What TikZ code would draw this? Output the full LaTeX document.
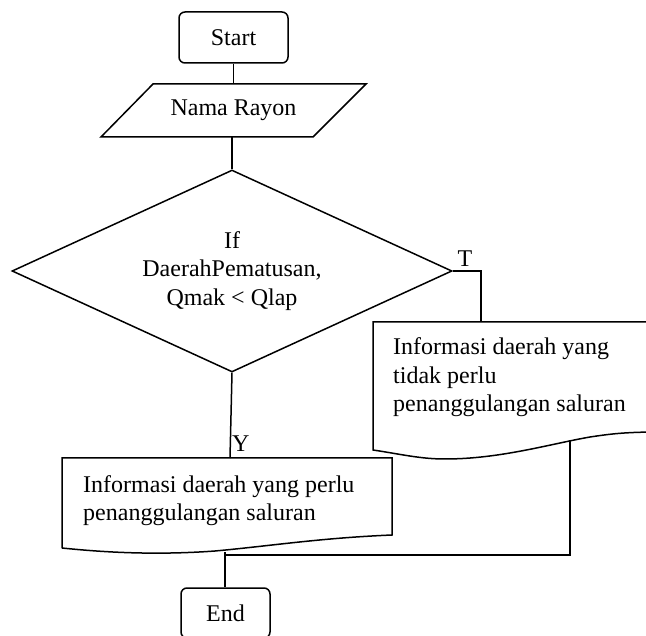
\documentclass[tikz,border=0pt]{standalone}
\usepackage{fontspec}
\setmainfont{Liberation Serif}
\usetikzlibrary{shapes.geometric}

\tikzset{
	garis/.style={line width=1.5pt},
	terminal/.style={draw, garis, rounded corners=6pt, inner sep=0pt},
	masukan/.style={minimum width=265pt, minimum height=53pt, inner sep=0pt},
	keputusan/.style={draw, garis, diamond, aspect=2.2, minimum width=440pt, minimum height=202pt,
		inner sep=0pt, align=center},
	isi/.style={align=left, inner sep=0pt}
}

\begin{document}
\begin{tikzpicture}[x=1pt, y=-1pt, font=\fontsize{24}{28.5}\selectfont]
\useasboundingbox (0,0) rectangle (646,636);
\clip (0,0) rectangle (646,636);

\node[terminal, minimum width=109pt, minimum height=51pt] (mulai) at (233.5,37.5) {Start};
\node[masukan] (rayon) at (233.5,110.5) {Nama Rayon};
\draw[garis] (153,84) -- (366,84) -- (313,137) -- (101,137) -- cycle;
\node[keputusan] (cek) at (232,271) {If\\DaerahPematusan,\\Qmak < Qlap};

\draw[garis] (mulai.south) -- (mulai.south |- rayon.north);
\draw[garis] (cek.north) -- (cek.north |- rayon.south);

% Cabang T
\coordinate (tbelok) at (481,271);
\coordinate (tidakatas) at (481,322);
\draw[garis] (cek.east) -- (tbelok) -- (tidakatas);
\node[anchor=base, inner sep=0pt] (labelT) at (465,266.5) {T};

\draw[garis] (660,322) -- (373,322) -- (373,450)
	.. controls (400,454) and (420,459) .. (445,459)
	.. controls (500,459) and (550,444) .. (590,437)
	.. controls (610,434) and (625,432) .. (660,432);
\node[isi, anchor=north west] (tidak) at (393,337.5) {Informasi daerah yang\\tidak perlu\\penanggulangan saluran};

% Cabang Y
\coordinate (perluatas) at (230,458);
\draw[garis] (cek.south) -- (perluatas);
\node[anchor=base west, inner sep=0pt] (labelY) at (232,451.5) {Y};

\draw[garis] (62,548) -- (62,458) -- (392,458) -- (392,535)
	.. controls (320,538) and (270,546) .. (215,551)
	.. controls (160,555) and (110,553) .. (62,548);
\node[isi, anchor=north west] (perlu) at (83,475) {Informasi daerah yang perlu\\penanggulangan saluran};

% Gabung ke End
\node[terminal, minimum width=89pt, minimum height=50pt] (selesai) at (225.5,613) {End};
\coordinate (tidakbawah) at (570,440);
\coordinate (gabung) at (225,555);
\coordinate (perlubawah) at (225,552);
\draw[garis] (tidakbawah) -- (tidakbawah |- gabung) -- (gabung);
\draw[garis] (perlubawah) -- (perlubawah |- selesai.north);
\end{tikzpicture}
\end{document}
